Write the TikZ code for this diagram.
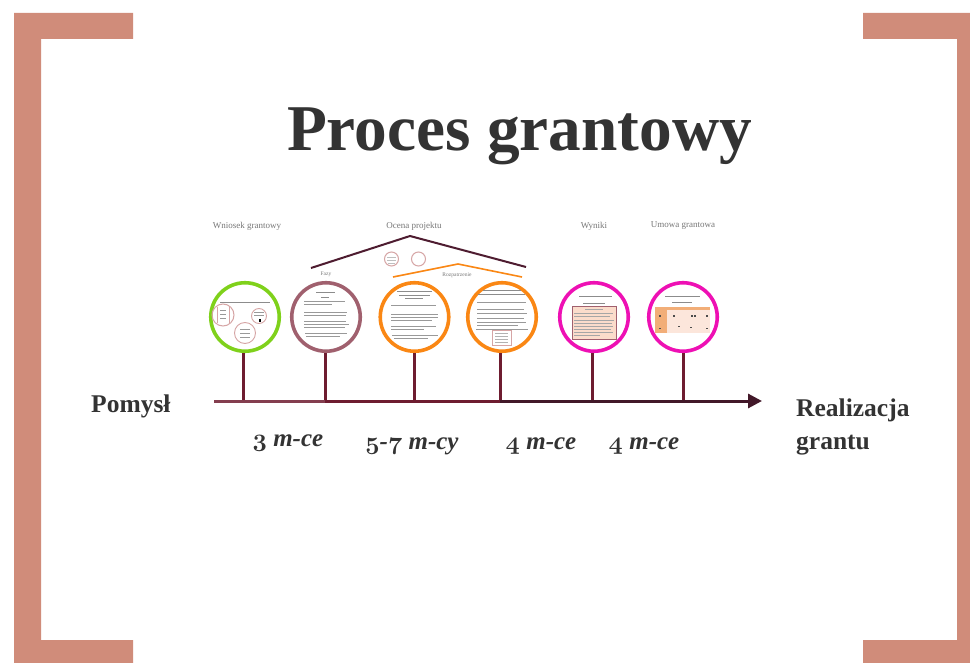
\documentclass[tikz,border=0pt]{standalone}
\usepackage{fontspec}
\setmainfont{Liberation Serif}
\usetikzlibrary{arrows.meta}
\definecolor{frameC}{HTML}{D08C7A}
\definecolor{inkC}{HTML}{333333}
\definecolor{labelC}{HTML}{777777}
\definecolor{stemC}{HTML}{6E1C30}
\definecolor{roofC}{HTML}{4E1C30}
\definecolor{greenC}{HTML}{7FD11B}
\definecolor{mauveC}{HTML}{A0606E}
\definecolor{orangeC}{HTML}{FA8714}
\definecolor{magentaC}{HTML}{EE10B4}
\definecolor{pinkC}{HTML}{D6A5A5}
\definecolor{sheetC}{HTML}{FBDCCB}
\definecolor{tableC}{HTML}{F2AE78}
\tikzset{
  x=1pt,y=-1pt,
  frameP/.style={fill=frameC,draw=none},
  disc/.style={circle,draw=#1,line width=3.6pt,fill=white,minimum size=68.5pt,inner sep=0pt},
  stemL/.style={draw=stemC,line width=3pt},
  axisL/.style={line width=3pt},
  roofL/.style={draw=roofC,line width=2pt,line join=miter},
  roofO/.style={draw=orangeC,line width=1.6pt},
  topT/.style={font=\fontsize{9}{11}\selectfont,text=labelC,inner sep=0pt},
  subT/.style={font=\fontsize{5.5}{7}\selectfont,text=labelC,inner sep=0pt},
  sideT/.style={font=\fontsize{25.5}{31}\selectfont\bfseries,text=inkC,inner sep=0pt,align=left},
  timeT/.style={font=\fontsize{25}{30}\selectfont\bfseries\itshape,text=inkC,inner sep=0pt},
  gLine/.style={draw=black!45,line width=0.6pt},
  gThin/.style={draw=black!40,line width=0.45pt},
  mini/.style={circle,draw=pinkC,line width=0.7pt,inner sep=0pt,minimum size=#1},
}
\newcommand{\os}[1]{{\usefont{OML}{cmm}{b}{it}#1}}
\begin{document}
\begin{tikzpicture}
\useasboundingbox (0,0) rectangle (970,663);
\fill[white] (0,0) rectangle (970,663);
% frame
\fill[frameP] (14,13) -- (133,13) -- (133,39) -- (41,39) -- (41,640) -- (133,640) -- (133,663) -- (14,663) -- cycle;
\fill[frameP] (863,13) -- (970,13) -- (970,663) -- (863,663) -- (863,640) -- (957,640) -- (957,39) -- (863,39) -- cycle;
% title
\node[font=\fontsize{65.3}{70}\selectfont\bfseries,text=inkC,inner sep=0pt,anchor=base] (title) at (519.5,151) {Proces grantowy};
% side texts
\node[sideT,anchor=base west] (start) at (91,412) {Pomysł};
\node[sideT,anchor=base west] (finish) at (796,416) {Realizacja};
\node[sideT,anchor=base west] (finish2) at (796,449) {grantu};
% top labels
\node[topT] (t1) at (247,226) {Wniosek grantowy};
\node[topT] (t2) at (414,226) {Ocena projektu};
\node[topT] (t3) at (594,226) {Wyniki};
\node[topT] (t4) at (683,226) {Umowa grantowa};
\node[subT] (t5) at (326,274) {Fazy};
\node[subT] (t6) at (457,275) {Rozpatrzenie};
% axis
\coordinate (a0) at (214,401);
\coordinate (s1) at (243,401);
\coordinate (s2) at (325,401);
\coordinate (s3) at (414,401);
\coordinate (s4) at (500,401);
\coordinate (s5) at (592,401);
\coordinate (s6) at (683,401);
\coordinate (a1) at (762,401);
% circles
\node[disc=greenC] (c1) at (245,317) {};
\node[disc=mauveC] (c2) at (326,317) {};
\node[disc=orangeC] (c3) at (414.5,317) {};
\node[disc=orangeC] (c4) at (502,317) {};
\node[disc=magentaC] (c5) at (594,317) {};
\node[disc=magentaC] (c6) at (683,317) {};
% stems
\foreach \i in {1,...,6} {\draw[stemL] (s\i |- c\i.south) -- (s\i);}
\draw[axisL,draw=stemC!85!white] (a0) -- (s2);
\draw[axisL,draw=stemC] (s2) -- (s4);
\draw[axisL,draw=roofC!85!black,-{Triangle[length=14pt,width=14pt]}] (s4) -- (a1);
% roofs
\coordinate (r1) at (311,268); \coordinate (r2) at (410,236); \coordinate (r3) at (526,267);
\draw[roofL] (r1) -- (r2) -- (r3);
\coordinate (o1) at (393,277); \coordinate (o2) at (458,264); \coordinate (o3) at (522,277);
\draw[roofO] (o1) -- (o2) -- (o3);
\node[mini=14pt,line width=1pt] (m1) at (391.5,259) {};
\node[mini=14pt,line width=1pt] (m2) at (418.5,259) {};
\foreach \a/\b/\c in {387/396/257,387/396/260,388/395/263} {\draw[draw=black!25,line width=.4pt] (\a,\c) -- (\b,\c);}
% circle 1 content
\draw[gLine] (220,302) -- (270,302);
\node[mini=22pt,line width=1pt] (g1) at (223,315) {};
\node[mini=15pt,line width=.9pt] (g2) at (259,316) {};
\node[mini=21pt,line width=.9pt] (g3) at (245,333) {};
\draw[pinkC,line width=1pt] (217,307) -- (217,323) (229,307) -- (229,323);
\foreach \c in {310,314,318} {\draw[gThin] (220,\c) -- (226,\c);}
\foreach \c in {312,315} {\draw[gThin] (254,\c) -- (264,\c);}
\fill[black] (258.5,319) rectangle (260.5,322);
\foreach \c in {329,333,337} {\draw[gThin] (240,\c) -- (250,\c);}
% circle 2 content
\draw[gLine] (316,292) -- (335,292);
\draw[gLine] (321,297) -- (329,297);
\foreach \c/\a/\b in {301/304/345,304/304/332,312/304/347,315/304/346,321/304/346,324/304/349,327/304/345,333/305/347,336/306/340} {\draw[gThin] (\a,\c) -- (\b,\c);}
% circle 3 content
\foreach \c/\a/\b in {291/397/432,295/399/430,298/405/423} {\draw[gLine] (\a,\c) -- (\b,\c);}
\foreach \c/\a/\b in {305/391/436,314/391/438,317/391/438,320/391/432,326/391/436,329/391/424,335/392/438,338/394/428} {\draw[gThin] (\a,\c) -- (\b,\c);}
% circle 4 content
\foreach \c/\a/\b in {290/483/521,294/478/525} {\draw[gLine] (\a,\c) -- (\b,\c);}
\foreach \c/\a/\b in {302/477/526,309/477/524,313/477/527,318/477/524,322/477/526,325/477/518,329/476/528} {\draw[gThin] (\a,\c) -- (\b,\c);}
\draw[draw=pinkC,fill=white,line width=.9pt] (492,330) rectangle (511.5,345);
\foreach \c in {333,336,339,342} {\draw[draw=black!30,line width=.35pt] (495,\c) -- (508,\c);}
% circle 5 content
\foreach \c/\a/\b in {296/579/612,303/583/605} {\draw[gLine] (\a,\c) -- (\b,\c);}
\draw[draw=mauveC,fill=sheetC,line width=.9pt] (572,306.5) rectangle (616,339);
\foreach \c/\a/\b in {309.5/585/603,313/574/613,316.5/574/610,320/574/614,323/574/612,326/574/613,329/574/611,332/574/613,335/574/600} {\draw[draw=black!35,line width=.35pt] (\a,\c) -- (\b,\c);}
% circle 6 content
\foreach \c/\a/\b in {296/665/700,302/672/692} {\draw[gLine] (\a,\c) -- (\b,\c);}
\fill[fill=sheetC!70!white] (655,307) rectangle (710,333);
\fill[fill=tableC] (655,307) rectangle (710,310);
\fill[fill=tableC] (655,307) rectangle (667,333);
\foreach \a/\c in {659/315.5,659/328,673/315.5,691/315.5,694/315.5,706/315.5,690/327,706/328,678/326} {\fill[black!70] (\a,\c) rectangle ++(2.4,1.4);}
% durations
\node[timeT,anchor=base] (d1) at (288,446) {\os{3} m-ce};
\node[timeT,anchor=base] (d2) at (412,449) {\os{5}-\os{7} m-cy};
\node[timeT,anchor=base] (d3) at (541,449) {\os{4} m-ce};
\node[timeT,anchor=base] (d4) at (644,449) {\os{4} m-ce};
\end{tikzpicture}
\end{document}
